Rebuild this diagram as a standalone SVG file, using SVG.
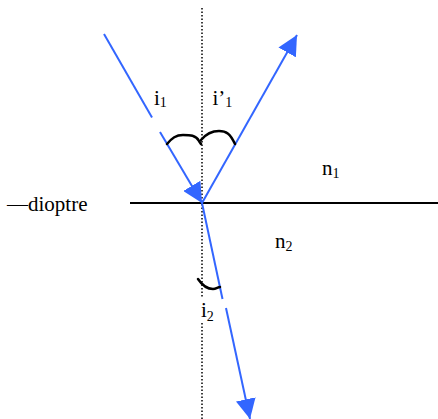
<svg xmlns="http://www.w3.org/2000/svg" width="438" height="419" viewBox="0 0 438 419">
<style>
.t{font-family:"Liberation Serif","Times New Roman",serif;font-size:21px;fill:#000}
.s{font-size:14px}
.ray{stroke:#3366ff;stroke-width:2;fill:none}
.arc{stroke:#000;stroke-width:2.5;fill:none;stroke-linecap:round}
</style>
<defs>
<marker id="ah" viewBox="0 0 20 20" refX="20" refY="10" markerWidth="20" markerHeight="20" markerUnits="userSpaceOnUse" orient="auto">
<path d="M0,0 L20,10 L0,20 Z" fill="#3366ff"/>
</marker>
</defs>
<rect width="438" height="419" fill="#fff"/>
<g id="normal">
<line x1="202" y1="8" x2="202" y2="419" stroke="#000" stroke-width="1.5" stroke-dasharray="1.5,2"/>
</g>
<g id="dioptre">
<line x1="130" y1="203" x2="438" y2="203" stroke="#000" stroke-width="2"/>
<text class="t" x="7" y="211">—dioptre</text>
</g>
<g id="connectors">
<line class="ray" x1="104" y1="34" x2="152" y2="117.5"/>
<line class="ray" x1="160" y1="132" x2="202" y2="203" marker-end="url(#ah)"/>
<line class="ray" x1="202" y1="203" x2="297" y2="35" marker-end="url(#ah)"/>
<line class="ray" x1="202" y1="203" x2="222.5" y2="299"/>
<line class="ray" x1="226" y1="308" x2="250" y2="419" marker-end="url(#ah)"/>
</g>
<g id="arcs">
<path class="arc" d="M167,144 C172,138 176,135 183,135 C190,135 196,135 199,141 L201,144"/>
<path class="arc" d="M201,140 C206,134 212,131 219,131 C226,131 230,133 235,144"/>
<path class="arc" d="M198,279 C202,285 207,289 213,289 C216,289 218,287 220,287"/>
</g>
<g id="labels">
<text class="t" x="154" y="105">i<tspan class="s" dy="1.5">1</tspan></text>
<text class="t" x="212.5" y="105">i’<tspan class="s" dy="1.5">1</tspan></text>
<text class="t" x="322" y="175">n<tspan class="s" dy="2.5">1</tspan></text>
<text class="t" x="275" y="248">n<tspan class="s" dy="2.5">2</tspan></text>
<rect x="197" y="298" width="20" height="25" fill="#fff"/>
<text class="t" x="201" y="317">i<tspan class="s" dy="4">2</tspan></text>
</g>
</svg>
